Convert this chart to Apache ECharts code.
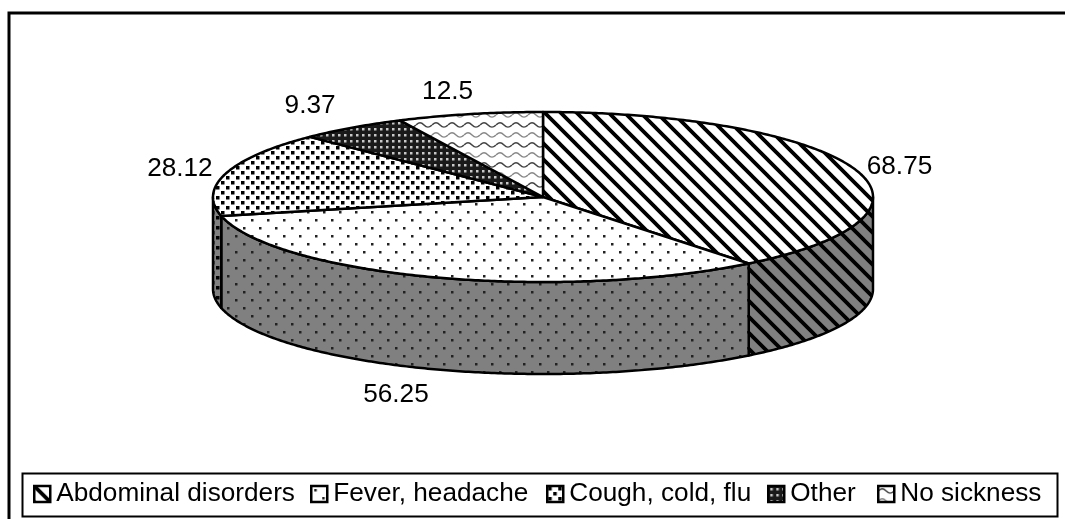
<!DOCTYPE html>
<html><head><meta charset="utf-8">
<style>html,body{margin:0;padding:0;background:#fff}#c{width:1065px;height:519px}</style>
<script src="https://cdn.jsdelivr.net/npm/echarts@6/dist/echarts.min.js"></script>
</head><body><div id="c"></div>
<script>
var categories = ['Abdominal disorders','Fever, headache','Cough, cold, flu','Other','No sickness'];
var values = [68.75,56.25,28.12,9.37,12.5];
var valueLabels = ['68.75','56.25','28.12','9.37','12.5'];

var FONT = '"Liberation Sans", Arial, sans-serif';
var CX=543, CY=197, RX=330, RY=85, DEPTH=92;
var labelOffsets = [[45,-2],[-38,118],[-46,-5],[-42,-22],[-22,-22]];
var legendLefts = [33,310,546,767,877];

function tile(w,h,bg,draw){
  var c=document.createElement('canvas');c.width=w;c.height=h;
  var g=c.getContext('2d');g.fillStyle=bg;g.fillRect(0,0,w,h);
  g.fillStyle='#000';g.strokeStyle='#000';draw(g,w,h);
  return {image:c,repeat:'repeat'};
}
function diag(bg){return tile(16,16,bg,function(g){
  g.lineWidth=3.8;g.beginPath();
  [-16,0,16].forEach(function(o){g.moveTo(o-2,-2);g.lineTo(o+18,18);});
  g.stroke();});}
function sparse(bg){return tile(16,16,bg,function(g){
  g.fillStyle='#222';g.fillRect(3,3,2.5,2.5);g.fillRect(11,11,2.5,2.5);});}
function big(bg){return tile(10,10,bg,function(g){
  g.fillRect(1,1,3.5,3.5);g.fillRect(6,6,3.5,3.5);});}
function dense(){return tile(6,6,'#1a1a1a',function(g){
  g.fillStyle='#c8c8c8';g.fillRect(2,2,2.5,2.5);});}
function wave(bg){return tile(16,20,bg,function(g){
  g.strokeStyle='#444';g.lineWidth=1.6;g.beginPath();g.moveTo(0,5);
  g.bezierCurveTo(3,2,5,2,8,5);g.bezierCurveTo(11,8,13,8,16,5);g.stroke();
  g.strokeStyle='#888';g.lineWidth=1.4;g.beginPath();g.moveTo(0,15);
  g.bezierCurveTo(3,12,5,12,8,15);g.bezierCurveTo(11,18,13,18,16,15);g.stroke();});}

var topFills=[diag('#fff'),sparse('#fff'),big('#fff'),dense(),wave('#fff')];
var wallFills=[diag('#808080'),sparse('#808080'),big('#808080'),dense(),wave('#808080')];

var total=values.reduce(function(a,b){return a+b;},0);
function pt(a,dy){return [CX+RX*Math.sin(a),CY-RY*Math.cos(a)+(dy||0)];}
function arc(a0,a1,dy){
  var n=Math.max(2,Math.ceil(Math.abs(a1-a0)/0.01)),p=[];
  for(var i=0;i<=n;i++)p.push(pt(a0+(a1-a0)*i/n,dy));
  return p;
}
function makeRender(idx){
  return function(params,api){
    var before=0;for(var i=0;i<idx;i++)before+=values[i];
    var a0=before/total*2*Math.PI;
    var a1=a0+api.value(0)/total*2*Math.PI;
    var kids=[];
    var lo=Math.max(a0,Math.PI/2), hi=Math.min(a1,1.5*Math.PI);
    if(hi>lo){
      kids.push({type:'polygon',z2:1,
        shape:{points:arc(lo,hi,0).concat(arc(hi,lo,DEPTH))},
        style:{fill:wallFills[idx],stroke:'#000',lineWidth:2.5,lineJoin:'round'}});
    }
    kids.push({type:'polygon',z2:2,
      shape:{points:[[CX,CY]].concat(arc(a0,a1,0))},
      style:{fill:topFills[idx],stroke:'#000',lineWidth:2.5,lineJoin:'round'}});
    var m=pt((a0+a1)/2);
    kids.push({type:'text',z2:5,
      style:{text:valueLabels[idx],x:m[0]+labelOffsets[idx][0],y:m[1]+labelOffsets[idx][1],
        align:'center',verticalAlign:'middle',fill:'#000',font:'26.2px '+FONT}});
    return {type:'group',children:kids};
  };
}
var series=categories.map(function(name,i){
  return {type:'custom',name:name,coordinateSystem:'none',silent:true,animation:false,
    clip:false,data:[[values[i]]],renderItem:makeRender(i),itemStyle:{color:topFills[i]}};
});
var legends=categories.map(function(name,i){
  return {left:legendLefts[i],top:481,padding:0,itemWidth:16,itemHeight:16,itemGap:0,
    selectedMode:false,z:10,
    data:[{name:name,icon:'rect',itemStyle:{color:topFills[i],borderColor:'#000',borderWidth:2.5,opacity:1}}],
    textStyle:{fontFamily:FONT,fontSize:26.2,color:'#000',padding:[0,0,0,1]}};
});
var chart=echarts.init(document.getElementById('c'),null,{renderer:'canvas'});
chart.setOption({
  animation:false,backgroundColor:'#fff',
  legend:legends,
  graphic:[
    {type:'polyline',z:1,shape:{points:[[9,519],[9,13],[1065,13]]},style:{fill:null,stroke:'#000',lineWidth:3}},
    {type:'rect',z:1,shape:{x:22.5,y:473.5,width:1035,height:43},style:{fill:'#fff',stroke:'#000',lineWidth:2}}
  ],
  series:series
});
</script></body></html>
